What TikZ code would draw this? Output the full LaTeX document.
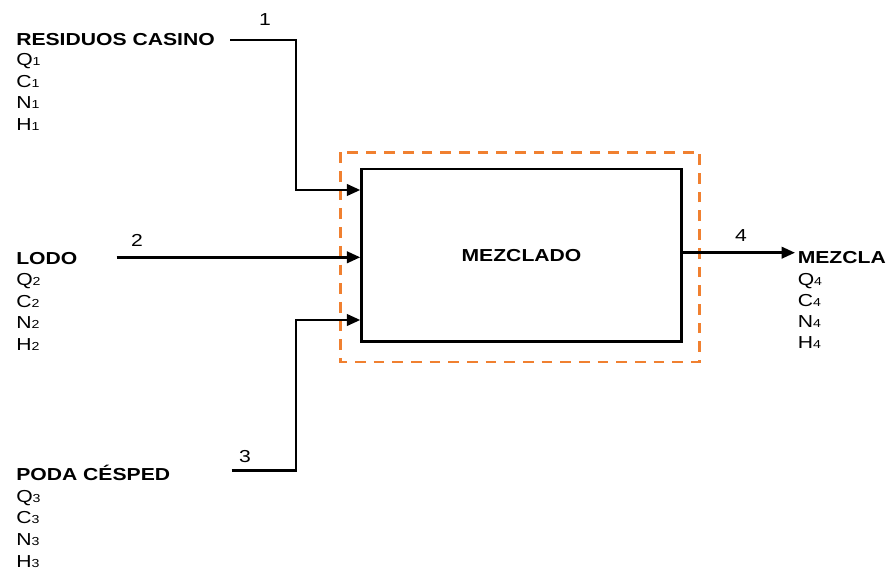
\documentclass[tikz,border=0pt]{standalone}
\usepackage{fontspec}
\setmainfont{Liberation Sans}
\usetikzlibrary{arrows.meta}
\definecolor{dashorange}{RGB}{240,128,48}
% horizontally widened lettering and small stream indices
\newcommand\wide[1]{\scalebox{1.22}[1]{#1}}
\newcommand\idx[1]{{\fontsize{8.7}{9}\selectfont #1}}

\begin{document}
\begin{tikzpicture}[x=0.75pt,y=-0.75pt,
  txt/.style={inner sep=0pt, anchor=base west, font=\fontsize{13}{15}\selectfont},
  title/.style={inner sep=0pt, anchor=base west, font=\fontsize{13}{15}\selectfont\bfseries},
  num/.style={inner sep=0pt, anchor=base, font=\fontsize{13}{15}\selectfont},
  flow/.style={line width=2pt, -{Triangle[length=10pt,width=8.5pt]}},
  unit/.style={draw, line width=1.8pt, minimum width=240pt, minimum height=129.4pt,
    inner sep=0pt, font=\fontsize{13}{15}\selectfont\bfseries},
  frame/.style={draw=dashorange, line width=2.2pt, dash pattern=on 8pt off 6pt}]
\useasboundingbox (0,0) rectangle (888,570);

% mixing unit and its control boundary
\node[unit] (mix) at (521.5,255.25) {\wide{MEZCLADO}};
\draw[frame] (340.5,152.5) rectangle (699.5,362);

% stream 1: casino waste
\node[title] (r1) at (16,46) {\wide{RESIDUOS CASINO}};
\node[txt] (q1) at (16,66) {\wide{Q\idx{1}}};
\node[txt] (c1) at (16,88) {\wide{C\idx{1}}};
\node[txt] (n1) at (16,109) {\wide{N\idx{1}}};
\node[txt] (h1) at (16,131) {\wide{H\idx{1}}};
\coordinate (s1) at (230,40);
\coordinate (b1) at (296,40);
\coordinate (e1) at (361,190);
\draw[flow] (s1) -- (b1) |- (mix.west |- e1);
\node[num] (l1) at (265,26) {\wide{1}};

% stream 2: sludge
\node[title] (r2) at (16,264) {\wide{LODO}};
\node[txt] (q2) at (16,285) {\wide{Q\idx{2}}};
\node[txt] (c2) at (16,307) {\wide{C\idx{2}}};
\node[txt] (n2) at (16,328) {\wide{N\idx{2}}};
\node[txt] (h2) at (16,350) {\wide{H\idx{2}}};
\coordinate (s2) at (116.5,257.3);
\draw[flow] (s2) -- (mix.west |- s2);
\node[num] (l2) at (137,247) {\wide{2}};

% stream 3: grass clippings
\node[title] (r3) at (16,480.5) {\wide{PODA CÉSPED}};
\node[txt] (q3) at (16,502) {\wide{Q\idx{3}}};
\node[txt] (c3) at (16,523.5) {\wide{C\idx{3}}};
\node[txt] (n3) at (16,545) {\wide{N\idx{3}}};
\node[txt] (h3) at (16,567) {\wide{H\idx{3}}};
\coordinate (s3) at (231.5,470.5);
\coordinate (b3) at (296,470.5);
\coordinate (e3) at (361,320);
\draw[flow] (s3) -- (b3) |- (mix.west |- e3);
\node[num] (l3) at (245,462) {\wide{3}};

% stream 4: mixture
\coordinate (e4) at (795,252.7);
\draw[flow] (mix.east |- e4) -- (e4);
\node[num] (l4) at (741,242) {\wide{4}};
\node[title] (r4) at (797.5,263) {\wide{MEZCLA}};
\node[txt] (q4) at (797.5,285) {\wide{Q\idx{4}}};
\node[txt] (c4) at (797.5,306) {\wide{C\idx{4}}};
\node[txt] (n4) at (797.5,327) {\wide{N\idx{4}}};
\node[txt] (h4) at (797.5,348.5) {\wide{H\idx{4}}};
\end{tikzpicture}
\end{document}
